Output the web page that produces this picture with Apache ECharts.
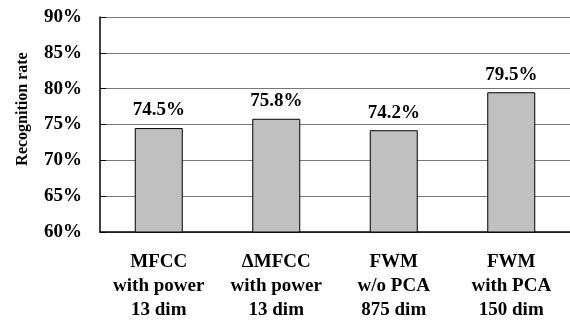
<!DOCTYPE html>
<html>
<head>
<meta charset="utf-8">
<script src="https://cdn.jsdelivr.net/npm/echarts@6/dist/echarts.min.js"></script>
<style>html,body{margin:0;padding:0;background:#fff}#c{width:570px;height:326px}</style>
</head>
<body>
<div id="c"></div>
<script>
var categories = ["MFCC\nwith power\n13 dim", "\u0394MFCC\nwith power\n13 dim", "FWM\nw/o PCA\n875 dim", "FWM\nwith PCA\n150 dim"];
var rates = [74.5, 75.8, 74.2, 79.5];
var yMin = 60, yMax = 90, yStep = 5;
var yTitle = "Recognition rate";

var FONT = "'Liberation Serif', 'Times New Roman', serif";
var chart = echarts.init(document.getElementById('c'));
chart.setOption({
  animation: false,
  backgroundColor: '#fff',
  grid: { left: 100, top: 17, width: 480, height: 215, containLabel: false },
  xAxis: {
    type: 'category',
    data: categories,
    boundaryGap: true,
    axisLine: { lineStyle: { color: '#000', width: 1.5 } },
    axisTick: { inside: true, length: 6, interval: 0, lineStyle: { color: '#000' } },
    axisLabel: { interval: 0, margin: 18, fontFamily: FONT, fontWeight: 'bold', fontSize: 19, lineHeight: 24, color: '#000' }
  },
  yAxis: {
    type: 'value',
    min: yMin, max: yMax, interval: yStep,
    axisLine: { show: true, lineStyle: { color: '#000', width: 1.5 } },
    axisTick: { show: true, inside: true, length: 6, lineStyle: { color: '#000' } },
    axisLabel: { margin: 18, fontFamily: FONT, fontWeight: 'bold', fontSize: 19, color: '#000',
      formatter: function (v) { return v + '%'; } },
    splitLine: { show: true, lineStyle: { color: '#777', width: 1 } }
  },
  graphic: [{
    type: 'text', x: 23, y: 109, rotation: Math.PI / 2,
    style: { text: yTitle, fontFamily: FONT, fontWeight: 'bold', fontSize: 16, fill: '#000',
      align: 'center', verticalAlign: 'middle' }
  }],
  series: [{
    type: 'bar',
    data: rates,
    barWidth: 48,
    itemStyle: { color: '#c0c0c0', borderColor: '#000', borderWidth: 1 },
    label: { show: true, position: 'top', distance: 8, fontFamily: FONT, fontWeight: 'bold', fontSize: 19, color: '#000',
      formatter: function (p) { return p.value.toFixed(1) + '%'; } }
  }]
});
</script>
</body>
</html>
